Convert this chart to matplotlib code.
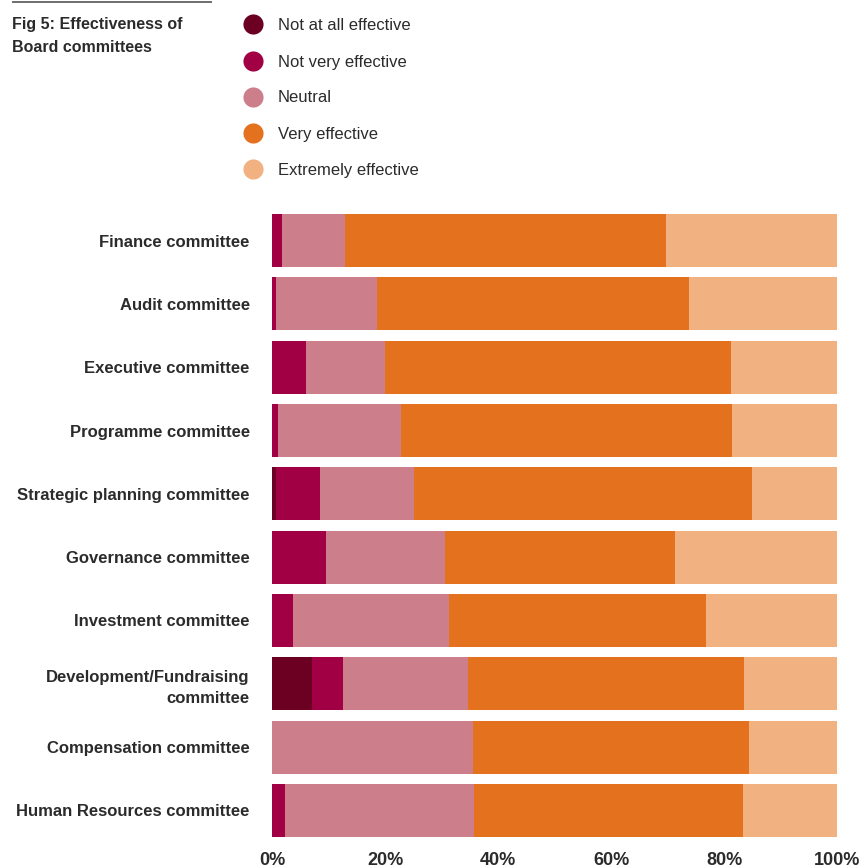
import matplotlib
matplotlib.use("Agg")
import matplotlib.pyplot as plt
import numpy as np

plt.rcParams['font.family'] = ['Liberation Sans', 'DejaVu Sans']

committees = [
    "Finance committee",
    "Audit committee",
    "Executive committee",
    "Programme committee",
    "Strategic planning committee",
    "Governance committee",
    "Investment committee",
    "Development/Fundraising\ncommittee",
    "Compensation committee",
    "Human Resources committee",
]
ratings = ["Not at all effective", "Not very effective", "Neutral",
           "Very effective", "Extremely effective"]

not_at_all = [0.0, 0.0, 0.0, 0.0, 0.7, 0.0, 0.0, 7.1, 0.0, 0.0]
not_very   = [1.8, 0.7, 6.0, 1.1, 7.8, 9.6, 3.7, 5.5, 0.0, 2.3]
neutral    = [11.1, 17.9, 14.0, 21.7, 16.6, 21.0, 27.6, 22.1, 35.6, 33.5]
very       = [56.8, 55.2, 61.2, 58.6, 59.9, 40.7, 45.5, 48.8, 48.8, 47.6]
extremely  = [30.3, 26.2, 18.8, 18.6, 15.0, 28.7, 23.2, 16.5, 15.6, 16.6]

x_ticks = [0, 20, 40, 60, 80, 100]
x_tick_labels = ["0%", "20%", "40%", "60%", "80%", "100%"]

colors = ["#6B0023", "#A20044", "#CC7E8A", "#E3711E", "#F2B181"]
text_color = "#2b2b2b"

W, H = 863, 868
fig = plt.figure(figsize=(W / 100, H / 100), dpi=100)

ax = fig.add_axes([272 / W, 1 - 837 / H, (837 - 272) / W, (837 - 214) / H])
series = [not_at_all, not_very, neutral, very, extremely]
y = np.arange(len(committees))
left = np.zeros(len(committees))
for vals, col, lab in zip(series, colors, ratings):
    vals = np.array(vals)
    ax.barh(y, vals, left=left, height=0.84, color=col, label=lab, linewidth=0)
    left += vals

ax.set_xlim(0, 100)
ax.set_ylim(len(committees) - 1 + 0.42, -0.42)
ax.set_yticks(y)
ax.set_yticklabels(committees, fontsize=12, fontweight='bold', color=text_color,
                   multialignment='right')
for lbl in ax.get_yticklabels():
    lbl.set_linespacing(1.45)
ax.set_xticks(x_ticks)
ax.set_xticklabels(x_tick_labels, fontsize=13, fontweight='bold', color=text_color)
ax.tick_params(axis='both', length=0)
ax.tick_params(axis='y', pad=16)
ax.tick_params(axis='x', pad=11)
for s in ax.spines.values():
    s.set_visible(False)

# Overlay in pixel coordinates for the title block and the legend
ov = fig.add_axes([0, 0, 1, 1], zorder=-1)
ov.set_xlim(0, W)
ov.set_ylim(H, 0)
ov.axis('off')

ov.plot([12, 212], [2, 2], color="#555555", linewidth=1.2, solid_capstyle='butt')
ov.text(12, 24, "Fig 5: Effectiveness of", fontsize=11.5,
        fontweight='bold', color=text_color, va='center', ha='left')
ov.text(12, 47, "Board committees", fontsize=11.5,
        fontweight='bold', color=text_color, va='center', ha='left')

legend_y = [24, 61, 97, 133, 169]
for ly, col, lab in zip(legend_y, colors, ratings):
    ov.scatter([253], [ly], s=210, color=col, linewidths=0)
    ov.text(278, ly + 1, lab, fontsize=12, color=text_color, va='center', ha='left')

fig.savefig("out.png", dpi=100)
